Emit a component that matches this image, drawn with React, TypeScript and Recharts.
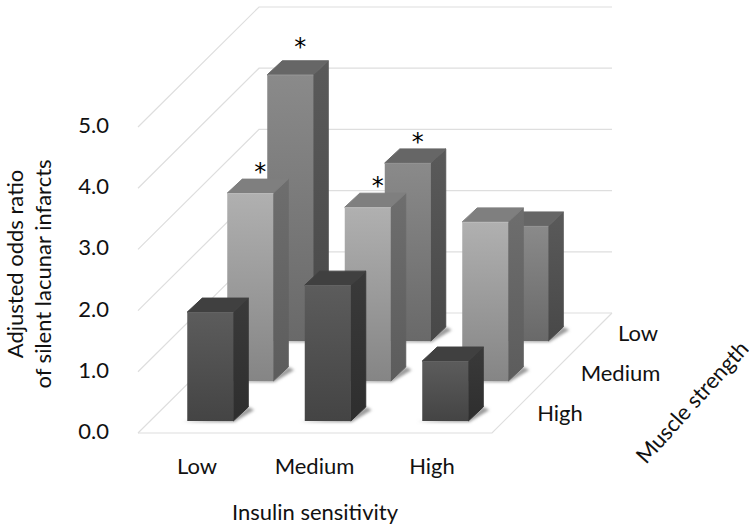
import React from 'react';
import { ComposedChart, Bar, XAxis, YAxis, CartesianGrid } from 'recharts';

const insulinLevels = ['Low', 'Medium', 'High'];
const muscleLevels = ['Low', 'Medium', 'High'];
const lowMuscle = [4.35, 2.91, 1.88];
const mediumMuscle = [3.07, 2.84, 2.6];
const highMuscle = [1.78, 2.22, 0.98];
const lowMuscleStars = [true, true, false];
const mediumMuscleStars = [true, true, false];
const highMuscleStars = [false, false, false];
const yTicks = [0, 1, 2, 3, 4, 5];

const rows = insulinLevels.map((name, i) => ({
  name,
  low: lowMuscle[i],
  medium: mediumMuscle[i],
  high: highMuscle[i],
}));

const FONT = 'Lato, sans-serif';
const FS = 22;

// projection of the depth axis
const BOX_DX = 15;
const BOX_DY = 14;
const ROW_STEP = 40;
const BASE_LIFT = 12;

const palettes: Record<string, any> = {
  low: { f0: '#8a8a8a', f1: '#696969', top: '#666666', s0: '#5a5a5a', s1: '#484848', edge: '#949494' },
  medium: { f0: '#b0b0b0', f1: '#858585', top: '#7f7f7f', s0: '#6e6e6e', s1: '#5c5c5c', edge: '#bbbbbb' },
  high: { f0: '#5c5c5c', f1: '#444444', top: '#404040', s0: '#3a3a3a', s1: '#2e2e2e', edge: '#646464' },
};

function box(key: string, depth: number, stars: boolean[]) {
  return (props: any) => {
    const { x, y, width, height, index } = props;
    const p = palettes[key];
    const ox = x + depth * ROW_STEP;
    const base = y + height - BASE_LIFT - depth * ROW_STEP;
    const top = y - BASE_LIFT - depth * ROW_STEP;
    const r = ox + width;
    const id = `${key}-${index}`;
    const lift = key === 'low' && index === 0 ? 32 : 25;
    return (
      <g>
        <defs>
          <linearGradient id={`f-${id}`} x1="0" y1="0" x2="0" y2="1">
            <stop offset="0" stopColor={p.f0} />
            <stop offset="1" stopColor={p.f1} />
          </linearGradient>
          <linearGradient id={`s-${id}`} x1="0" y1="0" x2="0" y2="1">
            <stop offset="0" stopColor={p.s0} />
            <stop offset="1" stopColor={p.s1} />
          </linearGradient>
          <filter id={`b-${id}`} x="-30%" y="-100%" width="160%" height="300%">
            <feGaussianBlur stdDeviation="1.6" />
          </filter>
        </defs>
        <polygon
          points={`${ox - 5},${base + 1} ${r + 1},${base + 1} ${r + BOX_DX + 6},${base - BOX_DY + 3} ${r + BOX_DX},${base - BOX_DY} ${r},${base - 3}`}
          fill="#9a9a9a"
          filter={`url(#b-${id})`}
        />
        <polygon
          points={`${r},${top} ${r + BOX_DX},${top - BOX_DY} ${r + BOX_DX},${base - BOX_DY} ${r},${base}`}
          fill={`url(#s-${id})`}
          stroke={`url(#s-${id})`}
          strokeLinejoin="round"
        />
        <polygon
          points={`${ox},${top} ${ox + BOX_DX},${top - BOX_DY} ${r + BOX_DX},${top - BOX_DY} ${r},${top}`}
          fill={p.top}
          stroke={p.top}
          strokeLinejoin="round"
        />
        <rect x={ox} y={top} width={width} height={base - top} fill={`url(#f-${id})`} />
        <path d={`M${ox},${top + 0.5} H${r}`} stroke={p.edge} strokeWidth={1} fill="none" />
        {stars[index] && (
          <text
            x={ox + width / 2 + 10}
            y={top - lift + 12}
            textAnchor="middle"
            fontFamily="DejaVu Sans"
            fontSize={24}
            fill="#000"
          >
            *
          </text>
        )}
      </g>
    );
  };
}

// side wall + back wall line through each tick value; the floor at value 0
const wallLine = (props: any) => {
  const { y1 } = props;
  const y = y1;
  const isFloor = Math.abs(y - 433) < 1;
  const backY = y - 120;
  return (
    <g key={`wall-${y}`}>
      <path d={`M138,${y} L259,${backY} H612`} stroke="#dedede" strokeWidth={1.2} fill="none" />
      {isFloor && <path d={`M138,${y} H492 L612,${backY}`} stroke="#dedede" strokeWidth={1.2} fill="none" />}
    </g>
  );
};

const yTick = (props: any) => (
  <text x={109} y={props.y - 2} dy="0.36em" textAnchor="end" fontFamily={FONT} fontSize={FS} fill="#111">
    {Number(props.payload.value).toFixed(1)}
  </text>
);

const xTick = (props: any) => (
  <text x={props.x - 13} y={466} dy="0.36em" textAnchor="middle" fontFamily={FONT} fontSize={FS} fill="#111">
    {props.payload.value}
  </text>
);

const labelStyle = { fontFamily: FONT, fontSize: FS, fill: '#111' };
const musclePositions = [
  [638, 333],
  [620.5, 373],
  [560, 413],
];

export default function App() {
  return (
    <div style={{ position: 'absolute', left: 0, top: 0, width: 749, height: 529, background: '#fff' }}>
      <ComposedChart
        width={749}
        height={529}
        data={rows}
        margin={{ top: 127, right: 245.25, bottom: 56, left: 0 }}
        barSize={46}
      >
        <CartesianGrid vertical={false} horizontal={wallLine} syncWithTicks />
        <XAxis xAxisId="high" dataKey="name" axisLine={false} tickLine={false} tick={xTick} height={40} interval={0} />
        <XAxis xAxisId="medium" dataKey="name" hide />
        <XAxis xAxisId="low" dataKey="name" hide />
        <YAxis domain={[0, 5]} ticks={yTicks} width={151.25} axisLine={false} tickLine={false} tick={yTick} interval={0} />
        <Bar xAxisId="low" dataKey="low" isAnimationActive={false} shape={box('low', 2, lowMuscleStars)} />
        <Bar xAxisId="medium" dataKey="medium" isAnimationActive={false} shape={box('medium', 1, mediumMuscleStars)} />
        <Bar xAxisId="high" dataKey="high" isAnimationActive={false} shape={box('high', 0, highMuscleStars)} />
        <text {...labelStyle} x={315} y={512} dy="0.36em" textAnchor="middle">Insulin sensitivity</text>
        <text {...labelStyle} textAnchor="middle" transform="translate(15,264) rotate(-90)" dy="0.36em">Adjusted odds ratio</text>
        <text {...labelStyle} textAnchor="middle" transform="translate(43,274) rotate(-90)" dy="0.36em">of silent lacunar infarcts</text>
        <text {...labelStyle} textAnchor="middle" transform="translate(692,402) rotate(-48)" dy="0.36em">Muscle strength</text>
        {muscleLevels.map((m, i) => (
          <text key={m} {...labelStyle} x={musclePositions[i][0]} y={musclePositions[i][1]} dy="0.36em" textAnchor="middle">{m}</text>
        ))}
      </ComposedChart>
    </div>
  );
}
